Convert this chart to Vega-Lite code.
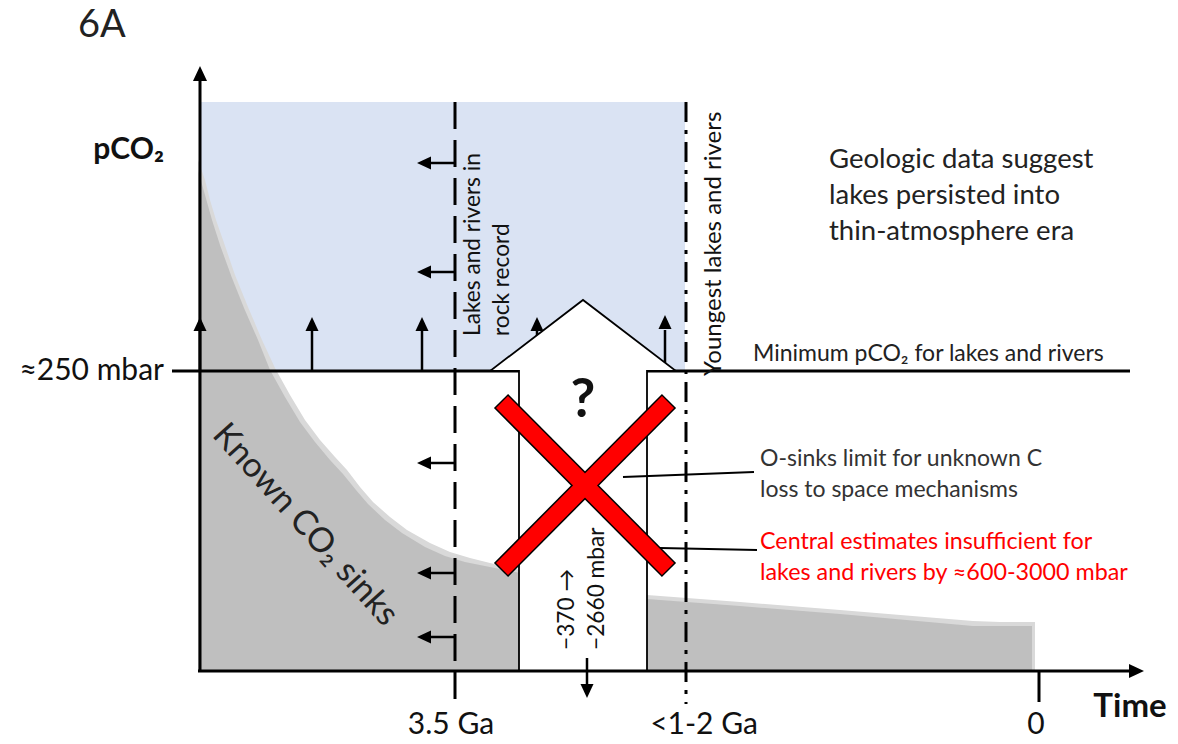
{
  "$schema": "https://vega.github.io/schema/vega-lite/v6.json",
  "width": 1178,
  "height": 744,
  "autosize": {"type": "fit", "contains": "padding"},
  "padding": 0,
  "background": "white",
  "config": {"view": {"stroke": null}, "text": {"font": "Lato, DejaVu Sans, sans-serif"}},
  "encoding": {
    "x": {"field": "x", "type": "quantitative", "scale": {"domain": [0, 1178], "nice": false, "zero": false}, "axis": null},
    "y": {"field": "y", "type": "quantitative", "scale": {"domain": [0, 744], "reverse": true, "nice": false, "zero": false}, "axis": null}
  },
  "layer": [
    {
      "data": {"values": [{"x": 200, "x2": 685, "y": 102, "y2": 371}]},
      "mark": {"type": "rect", "color": "#dae3f3"},
      "encoding": {"x2": {"field": "x2"}, "y2": {"field": "y2"}}
    },
    {
      "data": {"values": [
        {"x": 198, "y": 160, "y2": 671}, {"x": 205, "y": 180, "y2": 671}, {"x": 210, "y": 200, "y2": 671},
        {"x": 216, "y": 220, "y2": 671}, {"x": 223, "y": 240, "y2": 671}, {"x": 235, "y": 275, "y2": 671},
        {"x": 248, "y": 307, "y2": 671}, {"x": 262, "y": 340, "y2": 671}, {"x": 275, "y": 368, "y2": 671},
        {"x": 290, "y": 395, "y2": 671}, {"x": 305, "y": 420, "y2": 671}, {"x": 320, "y": 440, "y2": 671},
        {"x": 335, "y": 457, "y2": 671}, {"x": 347, "y": 470, "y2": 671}, {"x": 360, "y": 487, "y2": 671},
        {"x": 373, "y": 502, "y2": 671}, {"x": 390, "y": 517, "y2": 671}, {"x": 407, "y": 530, "y2": 671},
        {"x": 430, "y": 543, "y2": 671}, {"x": 450, "y": 552, "y2": 671}, {"x": 470, "y": 558, "y2": 671},
        {"x": 490, "y": 563, "y2": 671}, {"x": 520, "y": 570, "y2": 671}, {"x": 647, "y": 595, "y2": 671},
        {"x": 740, "y": 602, "y2": 671}, {"x": 840, "y": 610, "y2": 671}, {"x": 973, "y": 621, "y2": 671},
        {"x": 1000, "y": 622, "y2": 671}, {"x": 1035, "y": 622, "y2": 671}
      ]},
      "mark": {"type": "area", "color": "#d9d9d9", "interpolate": "linear"},
      "encoding": {"y2": {"field": "y2"}}
    },
    {
      "data": {"values": [
        {"x": 198, "y": 170, "y2": 671}, {"x": 205, "y": 195, "y2": 671}, {"x": 212, "y": 220, "y2": 671},
        {"x": 220, "y": 245, "y2": 671}, {"x": 232, "y": 278, "y2": 671}, {"x": 244, "y": 308, "y2": 671},
        {"x": 258, "y": 340, "y2": 671}, {"x": 270, "y": 370, "y2": 671}, {"x": 285, "y": 397, "y2": 671},
        {"x": 300, "y": 422, "y2": 671}, {"x": 315, "y": 442, "y2": 671}, {"x": 330, "y": 460, "y2": 671},
        {"x": 343, "y": 474, "y2": 671}, {"x": 356, "y": 490, "y2": 671}, {"x": 368, "y": 504, "y2": 671},
        {"x": 385, "y": 520, "y2": 671}, {"x": 402, "y": 533, "y2": 671}, {"x": 425, "y": 547, "y2": 671},
        {"x": 445, "y": 556, "y2": 671}, {"x": 465, "y": 562, "y2": 671}, {"x": 490, "y": 567, "y2": 671},
        {"x": 520, "y": 573, "y2": 671}, {"x": 647, "y": 599, "y2": 671}, {"x": 740, "y": 606, "y2": 671},
        {"x": 840, "y": 614, "y2": 671}, {"x": 973, "y": 626, "y2": 671}, {"x": 1000, "y": 626, "y2": 671},
        {"x": 1032, "y": 626, "y2": 671}
      ]},
      "mark": {"type": "area", "color": "#bfbfbf", "interpolate": "linear"},
      "encoding": {"y2": {"field": "y2"}}
    },
    {
      "data": {"values": [
        {"x": 200, "y": 371, "y2": 330}, {"x": 312, "y": 371, "y2": 330}, {"x": 422, "y": 371, "y2": 330},
        {"x": 537, "y": 371, "y2": 330}, {"x": 665, "y": 371, "y2": 330}
      ]},
      "mark": {"type": "rule", "color": "black", "strokeWidth": 2.5},
      "encoding": {"y2": {"field": "y2"}}
    },
    {
      "data": {"values": [{"x": 200, "y": 317}, {"x": 312, "y": 317}, {"x": 422, "y": 317}, {"x": 537, "y": 317}, {"x": 665, "y": 315}]},
      "mark": {"type": "point", "shape": "M0,0L0.65,1.4L-0.65,1.4Z", "size": 400, "filled": true, "color": "black", "opacity": 1, "strokeWidth": 0}
    },
    {
      "data": {"values": [{"y": 371, "x": 172, "x2": 1130}]},
      "mark": {"type": "rule", "color": "black", "strokeWidth": 3},
      "encoding": {"x2": {"field": "x2"}}
    },
    {
      "data": {"values": [{"x": 455, "y": 102, "y2": 704}]},
      "mark": {"type": "rule", "color": "black", "strokeWidth": 3, "strokeDash": [27, 11]},
      "encoding": {"y2": {"field": "y2"}}
    },
    {
      "data": {"values": [{"x": 686, "y": 102, "y2": 704}]},
      "mark": {"type": "rule", "color": "black", "strokeWidth": 3, "strokeDash": [20, 8, 4, 8]},
      "encoding": {"y2": {"field": "y2"}}
    },
    {
      "data": {"values": [{"x": 519, "x2": 647, "y": 371, "y2": 671}]},
      "mark": {"type": "rect", "color": "white"},
      "encoding": {"x2": {"field": "x2"}, "y2": {"field": "y2"}}
    },
    {
      "data": {"values": [{"x": 490, "y": 371, "y2": 371}, {"x": 583, "y": 300, "y2": 371}, {"x": 676, "y": 371, "y2": 371}]},
      "mark": {"type": "area", "color": "white", "interpolate": "linear"},
      "encoding": {"y2": {"field": "y2"}}
    },
    {
      "data": {"values": [
        {"o": 1, "x": 519, "y": 671}, {"o": 2, "x": 519, "y": 371}, {"o": 3, "x": 490, "y": 371},
        {"o": 4, "x": 583, "y": 300}, {"o": 5, "x": 676, "y": 371}, {"o": 6, "x": 647, "y": 371},
        {"o": 7, "x": 647, "y": 671}
      ]},
      "mark": {"type": "line", "color": "black", "strokeWidth": 1.8, "interpolate": "linear"},
      "encoding": {"order": {"field": "o", "type": "quantitative"}}
    },
    {
      "data": {"values": [{"x": 455, "x2": 428, "y": 163}, {"x": 455, "x2": 428, "y": 272}, {"x": 455, "x2": 428, "y": 463}, {"x": 455, "x2": 428, "y": 573}, {"x": 455, "x2": 428, "y": 637}]},
      "mark": {"type": "rule", "color": "black", "strokeWidth": 2.5},
      "encoding": {"x2": {"field": "x2"}}
    },
    {
      "data": {"values": [{"x": 417, "y": 163}, {"x": 417, "y": 272}, {"x": 417, "y": 463}, {"x": 417, "y": 573}, {"x": 417, "y": 637}]},
      "mark": {"type": "point", "shape": "M0,0L1.4,-0.65L1.4,0.65Z", "size": 400, "filled": true, "color": "black", "opacity": 1, "strokeWidth": 0}
    },
    {
      "data": {"values": [{"x": 587, "y": 658, "y2": 686}]},
      "mark": {"type": "rule", "color": "black", "strokeWidth": 2.5},
      "encoding": {"y2": {"field": "y2"}}
    },
    {
      "data": {"values": [{"x": 587, "y": 698}]},
      "mark": {"type": "point", "shape": "M0,0L0.65,-1.4L-0.65,-1.4Z", "size": 400, "filled": true, "color": "black", "opacity": 1, "strokeWidth": 0}
    },
    {
      "data": {"values": [{"x": 501, "y": 401, "x2": 669, "y2": 570}, {"x": 669, "y": 401, "x2": 501, "y2": 570}]},
      "mark": {"type": "rule", "color": "black", "strokeWidth": 20, "strokeCap": "butt"},
      "encoding": {"x2": {"field": "x2"}, "y2": {"field": "y2"}}
    },
    {
      "data": {"values": [{"x": 502, "y": 402, "x2": 668, "y2": 569}, {"x": 668, "y": 402, "x2": 502, "y2": 569}]},
      "mark": {"type": "rule", "color": "#ff0000", "strokeWidth": 17, "strokeCap": "butt"},
      "encoding": {"x2": {"field": "x2"}, "y2": {"field": "y2"}}
    },
    {
      "data": {"values": [{"x": 623, "y": 477, "x2": 754, "y2": 472}, {"x": 660, "y": 548, "x2": 757, "y2": 550}]},
      "mark": {"type": "rule", "color": "black", "strokeWidth": 2},
      "encoding": {"x2": {"field": "x2"}, "y2": {"field": "y2"}}
    },
    {
      "data": {"values": [{"x": 200, "y": 671, "y2": 78}]},
      "mark": {"type": "rule", "color": "black", "strokeWidth": 3},
      "encoding": {"y2": {"field": "y2"}}
    },
    {
      "data": {"values": [{"x": 200, "y": 66}]},
      "mark": {"type": "point", "shape": "M0,0L0.7,1.5L-0.7,1.5Z", "size": 400, "filled": true, "color": "black", "opacity": 1, "strokeWidth": 0}
    },
    {
      "data": {"values": [{"x": 198, "x2": 1130, "y": 671}]},
      "mark": {"type": "rule", "color": "black", "strokeWidth": 3},
      "encoding": {"x2": {"field": "x2"}}
    },
    {
      "data": {"values": [{"x": 1144, "y": 671}]},
      "mark": {"type": "point", "shape": "M0,0L-1.5,-0.7L-1.5,0.7Z", "size": 400, "filled": true, "color": "black", "opacity": 1, "strokeWidth": 0}
    },
    {
      "data": {"values": [{"x": 1039, "y": 671, "y2": 702}]},
      "mark": {"type": "rule", "color": "black", "strokeWidth": 3},
      "encoding": {"y2": {"field": "y2"}}
    },
    {
      "data": {"values": [{"x": 583, "y": 401, "t": "?"}]},
      "mark": {"type": "text", "fontSize": 54, "fontWeight": "bold", "color": "#111", "align": "center", "baseline": "middle"},
      "encoding": {"text": {"field": "t"}}
    },
    {
      "data": {"values": [{"x": 78, "y": 26, "t": "6A"}]},
      "mark": {"type": "text", "fontSize": 38, "color": "#222", "align": "left", "baseline": "middle"},
      "encoding": {"text": {"field": "t"}}
    },
    {
      "data": {"values": [{"x": 164, "y": 150, "t": "pCO₂"}]},
      "mark": {"type": "text", "fontSize": 30, "fontWeight": "bold", "color": "#111", "align": "right", "baseline": "middle"},
      "encoding": {"text": {"field": "t"}}
    },
    {
      "data": {"values": [{"x": 164, "y": 371, "t": "≈250 mbar"}]},
      "mark": {"type": "text", "fontSize": 30, "color": "#111", "align": "right", "baseline": "middle"},
      "encoding": {"text": {"field": "t"}}
    },
    {
      "data": {"values": [{"x": 451, "y": 725, "t": "3.5 Ga"}, {"x": 704, "y": 725, "t": "<1-2 Ga"}, {"x": 1036, "y": 725, "t": "0"}]},
      "mark": {"type": "text", "fontSize": 30, "color": "#111", "align": "center", "baseline": "middle"},
      "encoding": {"text": {"field": "t"}}
    },
    {
      "data": {"values": [{"x": 1130, "y": 707, "t": "Time"}]},
      "mark": {"type": "text", "fontSize": 33, "fontWeight": "bold", "color": "#111", "align": "center", "baseline": "middle"},
      "encoding": {"text": {"field": "t"}}
    },
    {
      "data": {"values": [{"x": 473, "y": 336, "t": "Lakes and rivers in"}, {"x": 502, "y": 336, "t": "rock record"}, {"x": 567, "y": 650, "t": "−370 →"}, {"x": 597, "y": 650, "t": "−2660 mbar"}]},
      "mark": {"type": "text", "fontSize": 22.7, "color": "#111", "align": "left", "baseline": "middle", "angle": 270},
      "encoding": {"text": {"field": "t"}}
    },
    {
      "data": {"values": [{"x": 714, "y": 376, "t": "Youngest lakes and rivers"}]},
      "mark": {"type": "text", "fontSize": 24, "color": "#111", "align": "left", "baseline": "middle", "angle": 270},
      "encoding": {"text": {"field": "t"}}
    },
    {
      "data": {"values": [{"x": 305, "y": 525, "t": "Known CO₂ sinks"}]},
      "mark": {"type": "text", "fontSize": 34, "color": "#222", "align": "center", "baseline": "middle", "angle": 48},
      "encoding": {"text": {"field": "t"}}
    },
    {
      "data": {"values": [{"x": 829, "y": 160, "t": "Geologic data suggest"}, {"x": 829, "y": 196, "t": "lakes persisted into"}, {"x": 829, "y": 232, "t": "thin-atmosphere era"}]},
      "mark": {"type": "text", "fontSize": 27.5, "color": "#222", "align": "left", "baseline": "middle"},
      "encoding": {"text": {"field": "t"}}
    },
    {
      "data": {"values": [{"x": 753, "y": 354, "t": "Minimum pCO₂ for lakes and rivers"}]},
      "mark": {"type": "text", "fontSize": 23, "color": "#222", "align": "left", "baseline": "middle"},
      "encoding": {"text": {"field": "t"}}
    },
    {
      "data": {"values": [{"x": 760, "y": 459, "t": "O-sinks limit for unknown C"}, {"x": 760, "y": 490, "t": "loss to space mechanisms"}]},
      "mark": {"type": "text", "fontSize": 23, "color": "#333", "align": "left", "baseline": "middle"},
      "encoding": {"text": {"field": "t"}}
    },
    {
      "data": {"values": [{"x": 760, "y": 542, "t": "Central estimates insufficient for"}, {"x": 760, "y": 573, "t": "lakes and rivers  by ≈600-3000 mbar"}]},
      "mark": {"type": "text", "fontSize": 23.3, "color": "#ff0000", "align": "left", "baseline": "middle"},
      "encoding": {"text": {"field": "t"}}
    }
  ]
}
